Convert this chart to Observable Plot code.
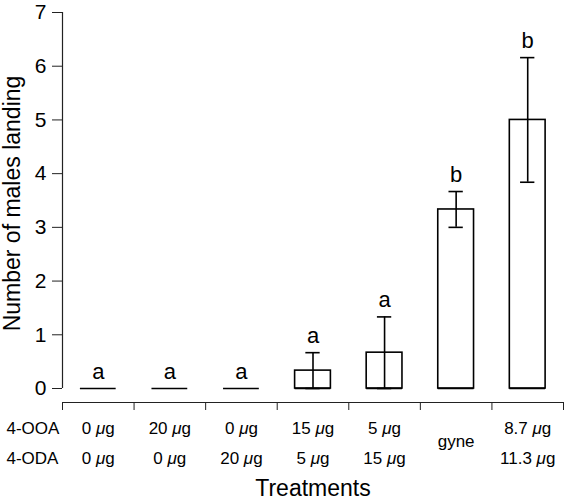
<!DOCTYPE html>
<html><head><meta charset="utf-8">
<script src="https://cdn.jsdelivr.net/npm/d3@7"></script>
<script src="https://cdn.jsdelivr.net/npm/@observablehq/plot@0.6"></script>
<style>body{margin:0;background:#fff;} svg{font-family:"Liberation Sans", Arial, sans-serif;}</style>
</head><body><div id="chart"></div>
<script>
// ---- data ----
const treatments = ["0/0", "20/0", "0/20", "15/5", "5/15", "gyne", "8.7/11.3"];
const means   = [0, 0, 0, 0.333, 0.667, 3.333, 5.0];
const errLow  = [0, 0, 0, 0, 0, 3.0, 3.84];
const errHigh = [0, 0, 0, 0.667, 1.333, 3.667, 6.16];
const letters = ["a", "a", "a", "a", "a", "b", "b"];
const ooaLabels = ["0 μg", "20 μg", "0 μg", "15 μg", "5 μg", "", "8.7 μg"];
const odaLabels = ["0 μg", "0 μg", "20 μg", "5 μg", "15 μg", "", "11.3 μg"];
const midLabels = ["", "", "", "", "", "gyne", ""];
const rowHeaders = ["4-OOA", "4-ODA"];
const yTicks = [0, 1, 2, 3, 4, 5, 6, 7];
const yLabel = "Number of males landing";
const xLabel = "Treatments";

const data = treatments.map((t, i) => ({
  i, t, mean: means[i], lo: errLow[i], hi: errHigh[i], letter: letters[i],
  ooa: ooaLabels[i], oda: odaLabels[i], mid: midLabels[i]
}));
const errData = data.filter(d => d.hi > d.lo);
const xTicks = d3.range(treatments.length + 1);
const n = treatments.length;

const chart = Plot.plot({
  width: 566, height: 500,
  marginLeft: 62, marginRight: 3, marginTop: 12, marginBottom: 112,
  style: {fontFamily: "Liberation Sans, Arial, sans-serif", background: "white", color: "black"},
  x: {domain: [0, n], axis: null},
  y: {domain: [0, 7], axis: null},
  marks: [
    // y axis
    Plot.ruleX([0], {y1: 0, y2: 7, stroke: "#222", strokeWidth: 1.2}),
    Plot.axisY(yTicks, {tickSize: 10, tickPadding: 6, fontSize: 21, label: null, stroke: "#222",
      tickFormat: d3.format("d")}),
    // bars
    Plot.rectY(data, {x1: d => d.i + 0.25, x2: d => d.i + 0.75, y1: 0, y2: "mean",
      fill: "white", stroke: "black", strokeWidth: 1.6}),
    Plot.ruleY(data, {y: 0, x1: d => d.i + 0.25, x2: d => d.i + 0.75, stroke: "black", strokeWidth: 1.6}),
    // error bars
    Plot.ruleX(errData, {x: d => d.i + 0.5, y1: "lo", y2: "hi", stroke: "black", strokeWidth: 1.6}),
    Plot.ruleY(errData, {y: "lo", x1: d => d.i + 0.4, x2: d => d.i + 0.6, stroke: "black", strokeWidth: 1.6}),
    Plot.ruleY(errData, {y: "hi", x1: d => d.i + 0.4, x2: d => d.i + 0.6, stroke: "black", strokeWidth: 1.6}),
    // significance letters
    Plot.text(data, {x: d => d.i + 0.5, y: d => Math.max(d.hi, d.mean), text: "letter",
      dy: -10, lineAnchor: "bottom", fontSize: 22, fill: "black"}),
    // bottom (treatment) axis
    Plot.ruleY([0], {x1: 0, x2: n, dy: 14, stroke: "#222", strokeWidth: 1.2}),
    Plot.axisX(xTicks, {tickSize: 8, tickFormat: () => "", dy: 14, stroke: "#222", label: null}),
    Plot.text(data, {x: d => d.i + 0.5, y: 0, text: "ooa", dy: 40, fontSize: 17, fill: "black"}),
    Plot.text(data, {x: d => d.i + 0.5, y: 0, text: "oda", dy: 70, fontSize: 17, fill: "black"}),
    Plot.text(data, {x: d => d.i + 0.5, y: 0, text: "mid", dy: 53, fontSize: 17, fill: "black"}),
    Plot.text([rowHeaders[0]], {x: 0, y: 0, dx: -56, dy: 40, textAnchor: "start", fontSize: 17, fill: "black"}),
    Plot.text([rowHeaders[1]], {x: 0, y: 0, dx: -56, dy: 70, textAnchor: "start", fontSize: 17, fill: "black"}),
    Plot.text([xLabel], {x: n / 2, y: 0, dy: 100, fontSize: 23, fill: "black"}),
    Plot.text([yLabel], {frameAnchor: "left", textAnchor: "middle", dx: -50, dy: 3, rotate: -90, fontSize: 23, fill: "black"})
  ]
});

// italic mu
d3.select(chart).selectAll("text").each(function () {
  const t = this.textContent;
  if (t.includes("μ") && this.children.length === 0) {
    const parts = t.split("μ");
    const sel = d3.select(this);
    sel.text(null);
    sel.append("tspan").text(parts[0]);
    sel.append("tspan").attr("font-style", "italic").text("μ");
    sel.append("tspan").text(parts[1]);
  }
});

document.getElementById("chart").append(chart);
</script>
</body></html>
